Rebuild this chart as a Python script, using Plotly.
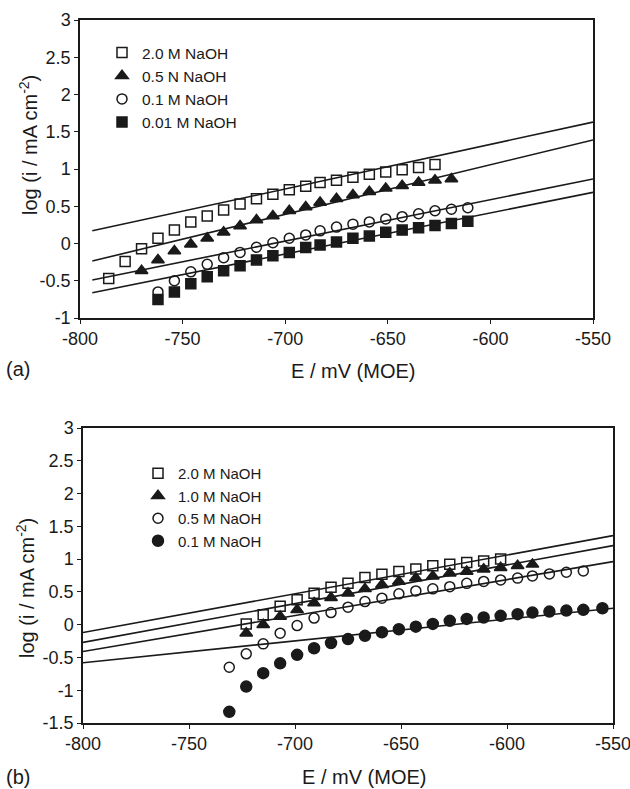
import plotly.graph_objects as go

# ---------------- Panel (a) data ----------------
a_x_sq = [-786, -778, -770, -762, -754, -746, -738, -730, -722, -714, -706, -698, -690, -683, -675, -667, -659, -651, -643, -635, -627]
a_y_sq = [-0.47, -0.24, -0.07, 0.07, 0.18, 0.29, 0.37, 0.45, 0.53, 0.60, 0.66, 0.72, 0.77, 0.82, 0.85, 0.89, 0.93, 0.96, 0.99, 1.02, 1.06]

a_x_tri = [-770, -762, -754, -746, -738, -730, -722, -714, -706, -698, -690, -683, -675, -667, -659, -651, -643, -635, -627, -619]
a_y_tri = [-0.365, -0.22, -0.10, -0.01, 0.07, 0.15, 0.235, 0.315, 0.37, 0.44, 0.49, 0.55, 0.60, 0.65, 0.695, 0.74, 0.776, 0.82, 0.85, 0.866]

a_x_circ = [-762, -754, -746, -738, -730, -722, -714, -706, -698, -690, -683, -675, -667, -659, -651, -643, -635, -627, -619, -611]
a_y_circ = [-0.65, -0.50, -0.38, -0.28, -0.19, -0.12, -0.05, 0.01, 0.07, 0.115, 0.17, 0.22, 0.26, 0.29, 0.33, 0.36, 0.40, 0.44, 0.46, 0.48]

a_x_fsq = [-762, -754, -746, -738, -730, -722, -714, -706, -698, -690, -683, -675, -667, -659, -651, -643, -635, -627, -619, -611]
a_y_fsq = [-0.75, -0.65, -0.54, -0.445, -0.365, -0.30, -0.22, -0.165, -0.12, -0.055, -0.02, 0.02, 0.07, 0.10, 0.15, 0.18, 0.21, 0.24, 0.27, 0.30]

a_fit_x = [-794, -550]
a_fit_1 = [0.17, 1.63]
a_fit_2 = [-0.235, 1.39]
a_fit_3 = [-0.49, 0.866]
a_fit_4 = [-0.66, 0.687]

a_names = ["2.0 M NaOH", "0.5 N NaOH", "0.1 M NaOH", "0.01 M NaOH"]

# ---------------- Panel (b) data ----------------
b_x_sq = [-723, -715, -707, -699, -691, -683, -675, -667, -659, -651, -643, -635, -627, -619, -611, -603]
b_y_sq = [0.01, 0.15, 0.28, 0.38, 0.48, 0.57, 0.63, 0.72, 0.77, 0.81, 0.85, 0.90, 0.92, 0.95, 0.97, 1.00]

b_x_tri = [-723, -715, -707, -699, -691, -683, -675, -667, -659, -651, -643, -635, -627, -619, -611, -603, -595, -588]
b_y_tri = [-0.13, 0.0, 0.125, 0.226, 0.33, 0.41, 0.48, 0.546, 0.61, 0.66, 0.71, 0.74, 0.785, 0.81, 0.845, 0.87, 0.90, 0.92]

b_x_circ = [-731, -723, -715, -707, -699, -691, -683, -675, -667, -659, -651, -643, -635, -627, -619, -611, -603, -595, -588, -580, -572, -564]
b_y_circ = [-0.65, -0.445, -0.293, -0.13, -0.014, 0.10, 0.184, 0.267, 0.352, 0.404, 0.47, 0.515, 0.546, 0.58, 0.63, 0.66, 0.683, 0.71, 0.744, 0.774, 0.80, 0.82]

b_x_fcirc = [-731, -723, -715, -707, -699, -691, -683, -675, -667, -659, -651, -643, -635, -627, -619, -611, -603, -595, -588, -580, -572, -564, -555]
b_y_fcirc = [-1.33, -0.944, -0.74, -0.59, -0.46, -0.36, -0.28, -0.22, -0.17, -0.115, -0.07, -0.03, 0.012, 0.058, 0.088, 0.11, 0.135, 0.16, 0.184, 0.20, 0.215, 0.226, 0.25]

b_fit_x = [-800, -550]
b_fit_1 = [-0.12, 1.358]
b_fit_2 = [-0.27, 1.206]
b_fit_3 = [-0.41, 0.962]
b_fit_4 = [-0.58, 0.251]

b_names = ["2.0 M NaOH", "1.0 M NaOH", "0.5 M NaOH", "0.1 M NaOH"]

# ---------------- Tick labels ----------------
x_tickvals = [-800, -750, -700, -650, -600, -550]
x_ticktext = ["-800", "-750", "-700", "-650", "-600", "-550"]
ya_tickvals = [-1, -0.5, 0, 0.5, 1, 1.5, 2, 2.5, 3]
ya_ticktext = ["-1", "-0.5", "0", "0.5", "1", "1.5", "2", "2.5", "3"]
yb_tickvals = [-1.5, -1, -0.5, 0, 0.5, 1, 1.5, 2, 2.5, 3]
yb_ticktext = ["-1.5", "-1", "-0.5", "0", "0.5", "1", "1.5", "2", "2.5", "3"]

W, H = 630, 789
FONT = "Liberation Sans, Arial, Helvetica, sans-serif"
INK = "#1a1a1a"

fig = go.Figure()

def add_fit(x, y, xa, ya):
    fig.add_trace(go.Scatter(x=x, y=y, mode="lines", line=dict(color=INK, width=1.6),
                             xaxis=xa, yaxis=ya, showlegend=False, hoverinfo="skip"))

def add_pts(x, y, name, symbol, size, xa, ya, legend):
    fig.add_trace(go.Scatter(x=x, y=y, mode="markers", name=name,
                             marker=dict(symbol=symbol, size=size, color=INK,
                                         line=dict(color=INK, width=1.5)),
                             xaxis=xa, yaxis=ya, legend=legend))

# Panel (a)
for fy in (a_fit_1, a_fit_2, a_fit_3, a_fit_4):
    add_fit(a_fit_x, fy, "x", "y")
add_pts(a_x_sq, a_y_sq, a_names[0], "square-open", 10, "x", "y", "legend")
add_pts(a_x_tri, a_y_tri, a_names[1], "triangle-up", 11, "x", "y", "legend")
add_pts(a_x_circ, a_y_circ, a_names[2], "circle-open", 10, "x", "y", "legend")
add_pts(a_x_fsq, a_y_fsq, a_names[3], "square", 10, "x", "y", "legend")

# Panel (b)
for fy in (b_fit_1, b_fit_2, b_fit_3, b_fit_4):
    add_fit(b_fit_x, fy, "x2", "y2")
add_pts(b_x_sq, b_y_sq, b_names[0], "square-open", 10, "x2", "y2", "legend2")
add_pts(b_x_tri, b_y_tri, b_names[1], "triangle-up", 11, "x2", "y2", "legend2")
add_pts(b_x_circ, b_y_circ, b_names[2], "circle-open", 10, "x2", "y2", "legend2")
add_pts(b_x_fcirc, b_y_fcirc, b_names[3], "circle", 11, "x2", "y2", "legend2")

axis_common = dict(showline=True, mirror=True, linecolor=INK, linewidth=1.5,
                   ticks="outside", ticklen=4, tickwidth=1.2, tickcolor=INK,
                   showgrid=False, zeroline=False, ticklabeloverflow="allow",
                   tickfont=dict(family=FONT, size=18, color=INK))

def px_x(p):
    return p / W

def px_y(p):
    return 1 - p / H

fig.update_layout(
    width=W, height=H,
    margin=dict(l=0, r=0, t=0, b=0, autoexpand=False),
    paper_bgcolor="white", plot_bgcolor="white",
    font=dict(family=FONT, color=INK),
    xaxis=dict(domain=[px_x(80), px_x(593)], range=[-800, -550], anchor="y",
               tickvals=x_tickvals, ticktext=x_ticktext, **axis_common),
    yaxis=dict(domain=[px_y(318), px_y(20)], range=[-1, 3], anchor="x",
               tickvals=ya_tickvals, ticktext=ya_ticktext, **axis_common),
    xaxis2=dict(domain=[px_x(83), px_x(613)], range=[-800, -550], anchor="y2",
                tickvals=x_tickvals, ticktext=x_ticktext, **axis_common),
    yaxis2=dict(domain=[px_y(723), px_y(428)], range=[-1.5, 3], anchor="x2",
                tickvals=yb_tickvals, ticktext=yb_ticktext, **axis_common),
    legend=dict(x=px_x(102), y=px_y(36), xanchor="left", yanchor="top",
                bgcolor="rgba(0,0,0,0)", font=dict(family=FONT, size=15.5, color=INK),
                tracegroupgap=0, itemclick=False),
    legend2=dict(x=px_x(138), y=px_y(457), xanchor="left", yanchor="top",
                 bgcolor="rgba(0,0,0,0)", font=dict(family=FONT, size=15, color=INK),
                 tracegroupgap=0, itemclick=False),
    showlegend=True,
)

ann_font = dict(family=FONT, size=20, color=INK)
annotations = [
    dict(text="E / mV (MOE)", x=px_x(353), y=px_y(371), xref="paper", yref="paper",
         showarrow=False, font=ann_font, xanchor="center", yanchor="middle"),
    dict(text="E / mV (MOE)", x=px_x(364), y=px_y(777), xref="paper", yref="paper",
         showarrow=False, font=ann_font, xanchor="center", yanchor="middle"),
    dict(text="log (i / mA cm<sup>-2</sup>)", x=px_x(28), y=px_y(145), xref="paper", yref="paper",
         showarrow=False, font=ann_font, textangle=-90, xanchor="center", yanchor="middle"),
    dict(text="log (i / mA cm<sup>-2</sup>)", x=px_x(25), y=px_y(588), xref="paper", yref="paper",
         showarrow=False, font=ann_font, textangle=-90, xanchor="center", yanchor="middle"),
    dict(text="(a)", x=px_x(18), y=px_y(369), xref="paper", yref="paper",
         showarrow=False, font=ann_font, xanchor="center", yanchor="middle"),
    dict(text="(b)", x=px_x(18), y=px_y(777), xref="paper", yref="paper",
         showarrow=False, font=ann_font, xanchor="center", yanchor="middle"),
]
fig.update_layout(annotations=annotations)

fig.write_html("out.html", config={"displayModeBar": False},
               post_script="document.body.style.margin='0';document.body.style.overflow='hidden';")
